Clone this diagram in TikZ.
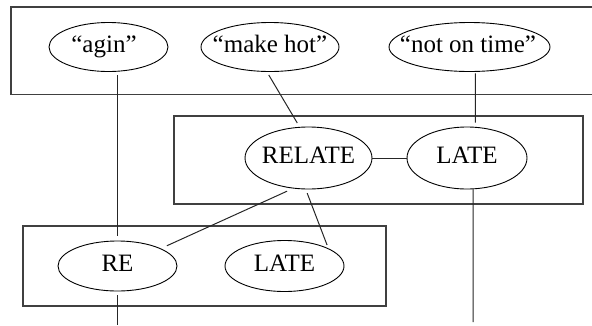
\documentclass[tikz,border=0pt]{standalone}
\usepackage{fontspec}
\setmainfont{Liberation Serif}
\usetikzlibrary{shapes.geometric}

\newcommand\zw[1]{\makebox[0pt]{#1}}

\tikzset{
  oval/.style={draw, ellipse, inner sep=0pt, line width=0.9pt,
    font=\fontsize{25}{29}\selectfont, text height=16.5pt, text depth=5.5pt},
  frame/.style={draw=black!75, line width=1.2pt},
  link/.style={draw=black!85, line width=1pt},
}

\begin{document}
\begin{tikzpicture}[x=1pt, y=-1pt]
  \clip (0,0) rectangle (592,325);

  % layer frames
  \draw[frame] (11,7) rectangle (600,94.5);
  \draw[frame] (174,116) rectangle (583,204);
  \draw[frame] (23,226) rectangle (386,306);

  % meanings
  \node[oval, minimum width=119pt, minimum height=49pt] (agin)      at (108.5,47) {\zw{“agin”\kern9pt}};
  \node[oval, minimum width=138pt, minimum height=49pt] (makehot)   at (270,47)   {\zw{“make hot”}};
  \node[oval, minimum width=161pt, minimum height=49pt] (notontime) at (469.5,47) {\zw{“not on time”\kern3pt}};

  % words
  \node[oval, minimum width=127pt, minimum height=62pt] (relate) at (308.5,158) {\zw{RELATE}};
  \node[oval, minimum width=120pt, minimum height=62pt] (late)   at (467,158)   {\zw{LATE}};

  % morphs
  \node[oval, minimum width=119pt, minimum height=50pt] (re)    at (117.5,266) {\zw{RE}};
  \node[oval, minimum width=119pt, minimum height=51pt] (late2) at (284.5,266) {\zw{LATE}};

  % open ends at the bottom
  \coordinate (reend)   at (117.5,325);
  \coordinate (lateend) at (473,322);

  % connectors
  \draw[link, shorten <=3.5pt, shorten >=5pt] (re.north |- agin.south) -- (re.north);
  \draw[link, shorten <=3.5pt, shorten >=4.5pt] (makehot.263) -- (relate.106);
  \draw[link, shorten <=1.5pt, shorten >=4.3pt] (notontime.283) -- (late.75);
  \draw[link] (relate.east) -- (late.west);
  \draw[link, shorten <=6.5pt, shorten >=6.5pt] (relate.243) -- (re.22);
  \draw[link, shorten <=4pt, shorten >=3.5pt] (relate.265) -- (late2.22);
  \draw[link] (late.281) -- (lateend);
  \draw[link, shorten <=4pt] (re.south) -- (reend);
\end{tikzpicture}
\end{document}
